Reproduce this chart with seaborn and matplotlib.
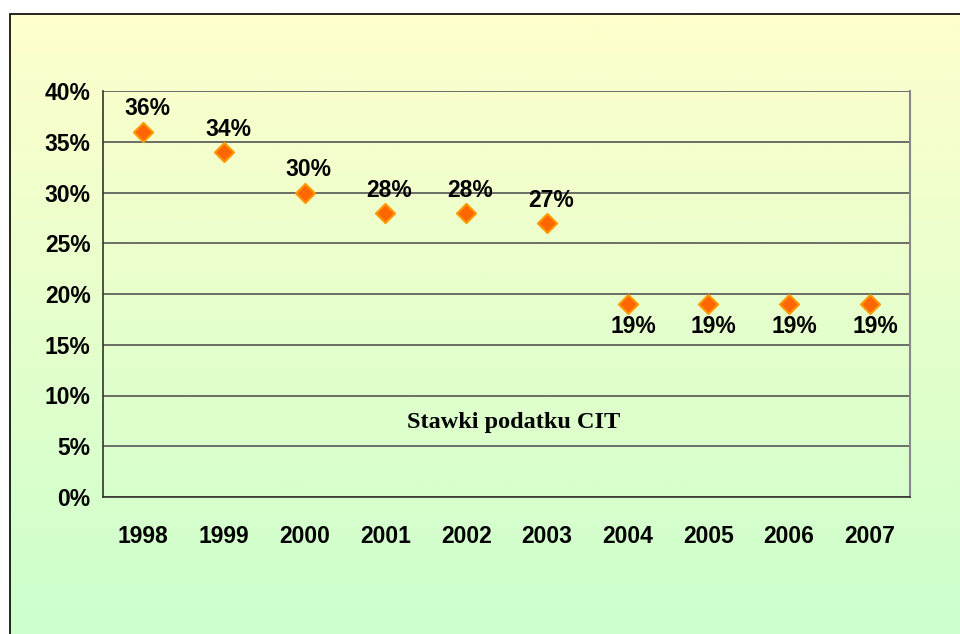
import numpy as np
import pandas as pd
import matplotlib
matplotlib.use('Agg')
import matplotlib.pyplot as plt
import seaborn as sns
from matplotlib.patches import Rectangle
from matplotlib.colors import LinearSegmentedColormap

# Data
years = ['1998', '1999', '2000', '2001', '2002', '2003', '2004', '2005', '2006', '2007']
rates = [36, 34, 30, 28, 28, 27, 19, 19, 19, 19]
label_above = [True, True, True, True, True, True, False, False, False, False]
y_ticks = [0, 5, 10, 15, 20, 25, 30, 35, 40]
title = 'Stawki podatku CIT'

df = pd.DataFrame({'year': years, 'rate': rates})

sns.set_style('white')
plt.rcParams['font.family'] = ['Liberation Sans', 'DejaVu Sans']
plt.rcParams['text.color'] = 'black'
plt.rcParams['xtick.color'] = 'black'
plt.rcParams['ytick.color'] = 'black'

fig = plt.figure(figsize=(9.6, 6.34), dpi=100)

# Gradient background inside the frame
bg = fig.add_axes([10/960, 0, 1 - 10/960, 1 - 14/634], zorder=-10)
cmap = LinearSegmentedColormap.from_list('bg', ['#FFFFCC', '#CCFFCC'])
grad = np.linspace(0, 1, 256).reshape(-1, 1)
bg.imshow(grad, aspect='auto', cmap=cmap, extent=[0, 1, 0, 1])
bg.set_axis_off()
fig.patches.append(Rectangle((10/960, -0.01), 1.0, 1 - 14/634 + 0.01, transform=fig.transFigure,
                             fill=False, edgecolor='black', linewidth=1.2, zorder=5))

# Plot area
ax = fig.add_axes([103/960, 1 - 497/634, (910 - 103)/960, (497 - 91)/634])
ax.patch.set_alpha(0)

sns.scatterplot(data=df, x='year', y='rate', marker='D', s=95, color='#FF6600',
                edgecolor='#FF9900', linewidth=1.5, ax=ax, zorder=3, legend=False)

ax.set_xlim(-0.5, len(years) - 0.5)
ax.set_ylim(0, 40)
ax.set_yticks(y_ticks)
ax.set_yticklabels([f'{v}%' for v in y_ticks], fontsize=16.5, fontweight='bold')
ax.set_xticks(range(len(years)))
ax.set_xticklabels(years, fontsize=16.5, fontweight='bold')
ax.set_xticks(np.arange(-0.5, len(years)), minor=True)
ax.tick_params(axis='x', which='major', length=0, pad=20)
ax.tick_params(axis='x', which='minor', length=7, width=1, color='#333333', direction='out')
ax.tick_params(axis='y', length=6, width=1, color='#333333', direction='out', pad=3)
ax.grid(axis='y', color='#555555', linewidth=1.2)
ax.set_axisbelow(True)

for side in ['left', 'bottom']:
    ax.spines[side].set_color('#333333')
    ax.spines[side].set_linewidth(1.2)
ax.spines['top'].set_visible(False)
ax.spines['right'].set_color('#888888')
ax.spines['right'].set_linewidth(1.5)
ax.set_xlabel('')
ax.set_ylabel('')

# Value labels
for i, (v, up) in enumerate(zip(rates, label_above)):
    if up:
        ax.annotate(f'{v}%', (i, v), xytext=(3, 8), textcoords='offset points',
                    ha='center', va='bottom', fontsize=16.5, fontweight='bold')
    else:
        ax.annotate(f'{v}%', (i, v), xytext=(4, -8), textcoords='offset points',
                    ha='center', va='top', fontsize=16.5, fontweight='bold')

ax.text(4.59, 7.3, title, ha='center', va='center', fontsize=17.5, fontweight='bold',
        family=['Liberation Serif', 'DejaVu Serif'])

plt.savefig('out.png', dpi=100)
plt.close()
